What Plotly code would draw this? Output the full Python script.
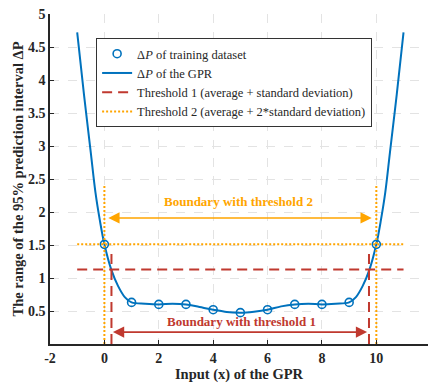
import plotly.graph_objects as go

# Training inputs and the prediction-interval width at each of them
x_train = [0, 1, 2, 3, 4, 5, 6, 7, 8, 9, 10]
dp_train = [1.51, 0.63, 0.60, 0.60, 0.52, 0.475, 0.52, 0.60, 0.60, 0.63, 1.51]

# GPR prediction-interval width sampled along the input
gpr_x = [-1.0, -0.75, -0.5, -0.33, -0.17, 0.0, 0.25, 0.5, 0.75, 1.0, 1.5, 2.0, 2.5,
         3.0, 3.5, 4.0, 4.5, 5.0, 5.5, 6.0, 6.5, 7.0, 7.5, 8.0, 8.5, 9.0, 9.25,
         9.5, 9.75, 10.0, 10.17, 10.33, 10.5, 10.75, 11.0]
gpr_y = [4.72, 3.78, 2.90, 2.30, 1.88, 1.51, 1.13, 0.88, 0.71, 0.63, 0.61, 0.60, 0.61,
         0.60, 0.56, 0.52, 0.485, 0.475, 0.49, 0.52, 0.57, 0.60, 0.61, 0.60, 0.61,
         0.63, 0.71, 0.88, 1.13, 1.51, 1.88, 2.30, 2.90, 3.78, 4.72]

# Thresholds and the boundaries they produce
threshold1 = 1.13
threshold2 = 1.51
thr_x = [-1, 11]
bound1 = [0.26, 9.73]
bound2 = [0.0, 10.0]
bound1_top = 1.37
bound2_top = 2.4

x_ticks = [-2, 0, 2, 4, 6, 8, 10, 12]
x_labels = ["-2", "0", "2", "4", "6", "8", "10", "12"]
y_ticks = [0.5, 1, 1.5, 2, 2.5, 3, 3.5, 4, 4.5, 5]
y_labels = ["0.5", "1", "1.5", "2", "2.5", "3", "3.5", "4", "4.5", "5"]

BLUE = "#0072BD"
RED = "#C0392F"
ORANGE = "#FFA500"
SERIF = "Liberation Serif"
INK = "#262626"

fig = go.Figure()

fig.add_trace(go.Scatter(
    x=x_train, y=dp_train, mode="markers",
    name="Δ<i>P</i> of training dataset",
    marker=dict(symbol="circle-open", size=8, color=BLUE, line=dict(width=1.6, color=BLUE)),
))
fig.add_trace(go.Scatter(
    x=gpr_x, y=gpr_y, mode="lines", line_shape="spline",
    name="Δ<i>P</i> of the GPR",
    line=dict(color=BLUE, width=2),
))
fig.add_trace(go.Scatter(
    x=thr_x, y=[threshold1, threshold1], mode="lines",
    name="Threshold 1 (average + standard deviation)",
    line=dict(color=RED, width=2, dash="10px,6px"),
))
for bx in bound1:
    fig.add_trace(go.Scatter(
        x=[bx, bx], y=[0, bound1_top], mode="lines", showlegend=False,
        line=dict(color=RED, width=2, dash="10px,6px"), hoverinfo="skip",
    ))
fig.add_trace(go.Scatter(
    x=thr_x, y=[threshold2, threshold2], mode="lines",
    name="Threshold 2 (average + 2*standard deviation)",
    line=dict(color=ORANGE, width=2, dash="2px,2px"),
))
for bx in bound2:
    fig.add_trace(go.Scatter(
        x=[bx, bx], y=[0, bound2_top], mode="lines", showlegend=False,
        line=dict(color=ORANGE, width=2, dash="2px,2px"), hoverinfo="skip",
    ))

# Double-headed arrows spanning each boundary
def span_arrow(x0, x1, y, color):
    fig.add_annotation(x=x1, y=y, ax=x0, ay=y, xref="x", yref="y", axref="x", ayref="y",
                       text="", showarrow=True, arrowhead=2, startarrowhead=2,
                       arrowside="end+start", arrowsize=1.4, arrowwidth=1.6,
                       arrowcolor=color, standoff=0, startstandoff=0)

span_arrow(0.09, 9.83, 1.91, ORANGE)
span_arrow(0.26, 9.66, 0.18, RED)

fig.add_annotation(x=4.94, y=2.16, xref="x", yref="y", showarrow=False,
                   text="<b>Boundary with threshold 2</b>",
                   font=dict(family=SERIF, size=13, color=ORANGE))
fig.add_annotation(x=5.05, y=0.34, xref="x", yref="y", showarrow=False,
                   text="<b>Boundary with threshold 1</b>",
                   font=dict(family=SERIF, size=13, color=RED))

axis_common = dict(
    showgrid=True, gridcolor="#E3E3E3", griddash="dash", gridwidth=1,
    zeroline=False, showline=True, linecolor=INK, linewidth=1.5,
    ticks="inside", ticklen=4, tickcolor=INK,
    tickfont=dict(family=SERIF, size=14, color=INK),
)

fig.update_layout(
    width=428, height=384,
    margin=dict(l=50, r=0, t=14, b=40),
    plot_bgcolor="white", paper_bgcolor="white",
    xaxis=dict(range=[-2, 11.9], tickvals=x_ticks,
               ticktext=[f"<b>{t}</b>" for t in x_labels],
               title=dict(text="<b>Input (x) of the GPR</b>", standoff=4,
                          font=dict(family=SERIF, size=14.5, color=INK)),
               **axis_common),
    yaxis=dict(range=[0, 5], tickvals=y_ticks,
               ticktext=[f"<b>{t}</b>" for t in y_labels],
               title=dict(text="<b>The range of the 95% prediction interval ΔP</b>", standoff=1,
                          font=dict(family=SERIF, size=14.5, color=INK)),
               **axis_common),
    legend=dict(x=0.122, y=0.927, xanchor="left", yanchor="top",
                bgcolor="white", bordercolor="#333333", borderwidth=1,
                font=dict(family=SERIF, size=12.5, color=INK),
                itemwidth=30, tracegroupgap=0),
    showlegend=True,
)

fig.write_html("out.html")
